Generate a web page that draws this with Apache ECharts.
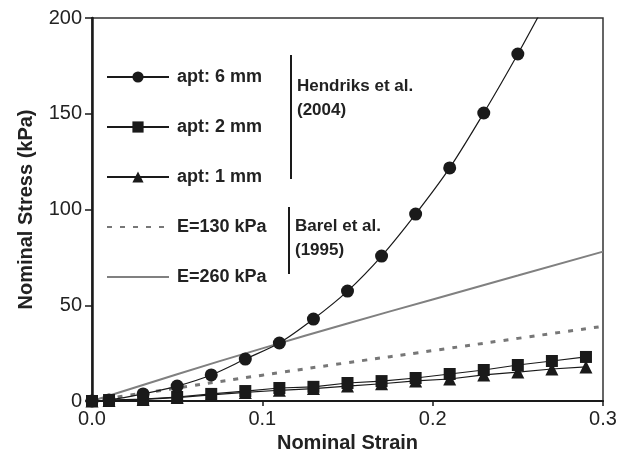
<!DOCTYPE html>
<html>
<head>
<meta charset="utf-8">
<script src="https://cdn.jsdelivr.net/npm/echarts@6/dist/echarts.min.js"></script>
<style>
  html, body { margin: 0; padding: 0; background: #fff; }
  #stress-chart { width: 624px; height: 456px; }
</style>
</head>
<body>
<div id="stress-chart"></div>
<script>
// strain values where the indentation measurements were taken
const strainPts = [0, 0.01, 0.03, 0.05, 0.07, 0.09, 0.11, 0.13, 0.15, 0.17, 0.19, 0.21, 0.23, 0.25, 0.27, 0.29];
// Hendriks et al. (2004), stress in kPa
const apt6 = [0, 0.5, 3.7, 7.8, 13.6, 21.9, 30.3, 42.8, 57.4, 75.7, 97.6, 121.7, 150.4, 181.2, 214];
const apt2 = [0, 0.5, 1.0, 2.1, 3.7, 5.2, 6.8, 7.4, 9.4, 10.4, 12.0, 14.1, 16.2, 18.8, 20.9, 23.0];
const apt1 = [0, 0.3, 0.8, 1.8, 3.2, 4.5, 5.6, 6.5, 7.8, 9.0, 10.5, 11.5, 13.6, 15.1, 16.7, 17.8];
// Barel et al. (1995) curves
const barelStrain = [0, 0.05, 0.1, 0.15, 0.2, 0.25, 0.3];
const e130 = [0, 6.8, 13.5, 20, 26.3, 32.7, 39];
const e260 = [0, 14, 27.5, 40.5, 53, 65.5, 78];

const xTicks = [0, 0.1, 0.2, 0.3];
const yTicks = [0, 50, 100, 150, 200];

const names = ["apt: 6 mm", "apt: 2 mm", "apt: 1 mm", "E=130 kPa", "E=260 kPa"];

function pairs(xs, ys) {
  return ys.map((y, i) => [xs[i], y]);
}

const font = "'Liberation Sans', Arial, sans-serif";
const black = "#1a1a1a";

const chart = echarts.init(document.getElementById("stress-chart"));

const options = {
  animation: false,
  textStyle: { fontFamily: font },
  grid: {
    left: 92,
    right: 21,
    top: 18,
    bottom: 55,
    outerBoundsMode: "none",
    show: true,
    borderColor: "#333",
    borderWidth: 1.5
  },
  legend: {
    // the two Barel curves have no marker in the key
    data: [
      names[0],
      names[1],
      names[2],
      { name: names[3], itemStyle: { opacity: 0 } },
      { name: names[4], itemStyle: { opacity: 0 } }
    ],
    orient: "vertical",
    left: 106,
    top: 68,
    padding: 0,
    itemWidth: 62,
    itemHeight: 14,
    itemGap: 32,
    textStyle: {
      fontSize: 18,
      fontWeight: "bold",
      color: "#222",
      fontFamily: font,
      padding: [0, 0, 0, 3]
    }
  },
  xAxis: {
    type: "value",
    min: xTicks[0],
    max: xTicks[xTicks.length - 1],
    interval: 0.1,
    name: "Nominal Strain",
    nameLocation: "middle",
    nameGap: 30,
    nameTextStyle: { fontSize: 20, fontWeight: "bold", color: "#222", fontFamily: font },
    splitLine: { show: false },
    axisLine: { lineStyle: { color: black, width: 2 } },
    axisTick: { inside: false, length: 5, lineStyle: { color: black, width: 1.5 } },
    axisLabel: {
      fontSize: 20,
      color: "#222",
      margin: 8,
      formatter: v => v.toFixed(1)
    }
  },
  yAxis: {
    type: "value",
    min: yTicks[0],
    max: yTicks[yTicks.length - 1],
    interval: 50,
    name: "Nominal Stress (kPa)",
    nameLocation: "middle",
    nameGap: 56,
    nameTextStyle: { fontSize: 20, fontWeight: "bold", color: "#222", fontFamily: font },
    splitLine: { show: false },
    axisLine: { lineStyle: { color: black, width: 2.5 } },
    axisTick: { inside: false, length: 7, lineStyle: { color: black, width: 1.5 } },
    axisLabel: { fontSize: 20, color: "#222", margin: 10 }
  },
  series: [
    {
      name: names[3],
      type: "line",
      data: pairs(barelStrain, e130),
      smooth: true,
      showSymbol: false,
      symbol: "none",
      z: 1,
      lineStyle: { color: "#777", width: 3, type: [5, 8] },
      itemStyle: { color: "#777" }
    },
    {
      name: names[4],
      type: "line",
      data: pairs(barelStrain, e260),
      smooth: true,
      showSymbol: false,
      symbol: "none",
      z: 1,
      lineStyle: { color: "#808080", width: 2 },
      itemStyle: { color: "#808080" }
    },
    {
      name: names[2],
      type: "line",
      data: pairs(strainPts, apt1),
      symbol: "triangle",
      symbolSize: 13,
      z: 3,
      lineStyle: { color: black, width: 1.2 },
      itemStyle: { color: black }
    },
    {
      name: names[1],
      type: "line",
      data: pairs(strainPts, apt2),
      symbol: "rect",
      symbolSize: 12,
      z: 4,
      lineStyle: { color: black, width: 1.2 },
      itemStyle: { color: black }
    },
    {
      name: names[0],
      type: "line",
      data: pairs(strainPts, apt6),
      symbol: "circle",
      symbolSize: 13,
      smooth: 0.3,
      clip: true,
      z: 5,
      lineStyle: { color: black, width: 1.2 },
      itemStyle: { color: black }
    }
  ],
  graphic: [
    { type: "line", shape: { x1: 291, y1: 55, x2: 291, y2: 179 }, style: { stroke: black, lineWidth: 2 } },
    { type: "text", x: 297, y: 86, style: { text: "Hendriks et al.", font: "bold 17px " + font, fill: "#222", verticalAlign: "middle" } },
    { type: "text", x: 297, y: 110, style: { text: "(2004)", font: "bold 17px " + font, fill: "#222", verticalAlign: "middle" } },
    { type: "line", shape: { x1: 289, y1: 207, x2: 289, y2: 274 }, style: { stroke: black, lineWidth: 2 } },
    { type: "text", x: 295, y: 226, style: { text: "Barel et al.", font: "bold 17px " + font, fill: "#222", verticalAlign: "middle" } },
    { type: "text", x: 295, y: 250, style: { text: "(1995)", font: "bold 17px " + font, fill: "#222", verticalAlign: "middle" } }
  ]
};

chart.setOption(options);
</script>
</body>
</html>
